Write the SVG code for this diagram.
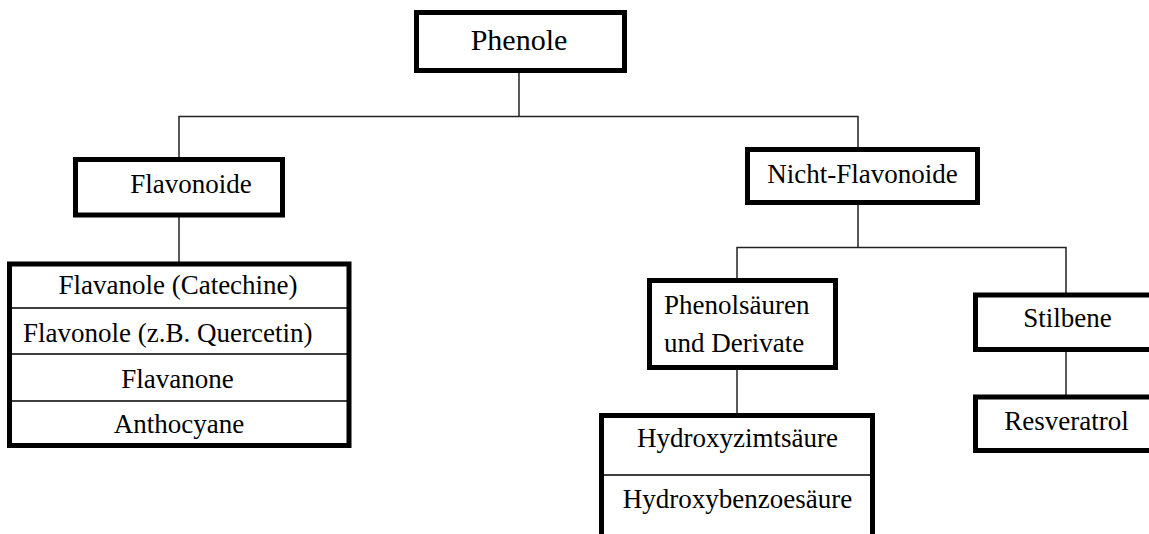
<svg xmlns="http://www.w3.org/2000/svg" width="1149" height="534" viewBox="0 0 1149 534">
<style>
.box{fill:#fff;stroke:#000;stroke-width:5}
.div{stroke:#000;stroke-width:1.6;fill:none}
.con{stroke:#222;stroke-width:1.5;fill:none}
text{font-family:"Liberation Serif","Times New Roman",serif;font-size:27px;fill:#000}
.m{text-anchor:middle}
</style>
<rect width="1149" height="534" fill="#fff"/>
<g id="connectors">
<path class="con" d="M519 73V116.5M179 157V116.5H858V147"/>
<path class="con" d="M179 217V262"/>
<path class="con" d="M858 205V247.5M737 278V247.5H1066V293"/>
<path class="con" d="M737 370V413"/>
<path class="con" d="M1066 352V395"/>
</g>
<g id="phenole">
<rect class="box" x="416.5" y="12.5" width="208" height="58"/>
<text class="m" x="519" y="50" style="font-size:30px">Phenole</text>
</g>
<g id="flavonoide">
<rect class="box" x="75.5" y="159.5" width="207" height="55.5"/>
<text class="m" x="191" y="193">Flavonoide</text>
</g>
<g id="flavonoid-list">
<rect class="box" x="9.5" y="264" width="339.5" height="181.5"/>
<path class="div" d="M9.5 308H349M9.5 354H349M9.5 401H349"/>
<text class="m" x="178" y="294">Flavanole (Catechine)</text>
<text x="23" y="342">Flavonole (z.B. Quercetin)</text>
<text class="m" x="177.5" y="388">Flavanone</text>
<text class="m" x="179" y="433">Anthocyane</text>
</g>
<g id="nicht-flavonoide">
<rect class="box" x="747.5" y="149.5" width="230" height="53"/>
<text class="m" x="862.5" y="183">Nicht-Flavonoide</text>
</g>
<g id="phenolsaeuren">
<rect class="box" x="649.5" y="280.5" width="186" height="87"/>
<text x="664" y="314">Phenolsäuren</text>
<text x="664" y="352">und Derivate</text>
</g>
<g id="hydroxy-list">
<rect class="box" x="601.5" y="415.5" width="271" height="140"/>
<path class="div" d="M601.5 475H872.5"/>
<text class="m" x="737.5" y="447">Hydroxyzimtsäure</text>
<text class="m" x="737.5" y="508">Hydroxybenzoesäure</text>
</g>
<g id="stilbene">
<rect class="box" x="975.5" y="295" width="200" height="54.5"/>
<text class="m" x="1067.5" y="327">Stilbene</text>
</g>
<g id="resveratrol">
<rect class="box" x="975.5" y="397" width="200" height="53.5"/>
<text class="m" x="1066.5" y="430">Resveratrol</text>
</g>
</svg>
